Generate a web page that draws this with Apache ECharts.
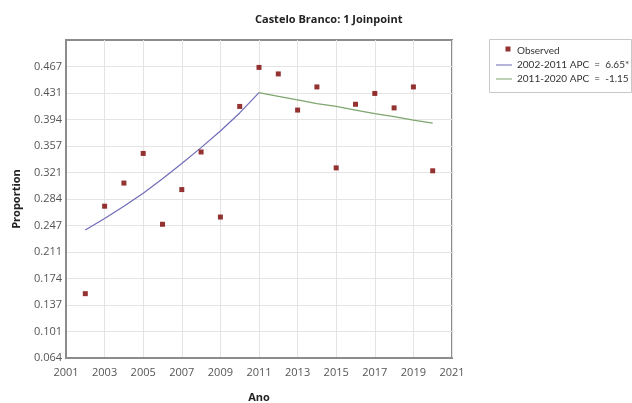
<!DOCTYPE html>
<html>
<head>
<meta charset="utf-8">
<script src="https://cdn.jsdelivr.net/npm/echarts@6/dist/echarts.min.js"></script>
<style>
  html, body { margin: 0; padding: 0; background: #fff; }
  #chart { width: 632px; height: 403px; }
</style>
</head>
<body>
<div id="chart"></div>
<script>
// ---- data ----
const years = [2002, 2003, 2004, 2005, 2006, 2007, 2008, 2009, 2010, 2011, 2012, 2013, 2014, 2015, 2016, 2017, 2018, 2019, 2020];
const observed = [0.153, 0.274, 0.306, 0.347, 0.249, 0.297, 0.349, 0.259, 0.412, 0.466, 0.457, 0.407, 0.439, 0.327, 0.415, 0.430, 0.410, 0.439, 0.323];
const seg1Years = [2002, 2003, 2004, 2005, 2006, 2007, 2008, 2009, 2010, 2011];
const seg1Values = [0.241, 0.257, 0.274, 0.292, 0.312, 0.333, 0.355, 0.378, 0.403, 0.431];
const seg2Years = [2011, 2012, 2013, 2014, 2015, 2016, 2017, 2018, 2019, 2020];
const seg2Values = [0.431, 0.426, 0.421, 0.416, 0.412, 0.407, 0.402, 0.398, 0.393, 0.389];
const seriesNames = ['Observed', '2002-2011 APC  =  6.65*', '2011-2020 APC  =  -1.15'];
const yTickValues = [0.064, 0.10066, 0.13732, 0.17398, 0.21064, 0.2473, 0.28396, 0.32062, 0.35728, 0.39394, 0.4306, 0.46726];
const yMin = 0.064, yMax = 0.50392;
const xTickValues = [2001, 2003, 2005, 2007, 2009, 2011, 2013, 2015, 2017, 2019, 2021];
const xMin = 2001, xMax = 2021;
const titleText = 'Castelo Branco: 1 Joinpoint';
const xName = 'Ano', yName = 'Proportion';

const pairs = (xs, ys) => xs.map((x, i) => [x, ys[i]]);
const FONT = 'Open Sans';
const LINE_ICON = 'path://M0,0h0.01v0.01h-0.01z M0,4.5h16v1h-16z M16,10h0.01v0.01h-0.01z';
const DOT_ICON = 'path://M0,0h0.01v0.01h-0.01z M9.5,0.5h5v5h-5z M16,10h0.01v0.01h-0.01z';

const chart = echarts.init(document.getElementById('chart'), null, { renderer: 'canvas' });
chart.setOption({
  animation: false,
  backgroundColor: '#fff',
  textStyle: { fontFamily: FONT },
  title: {
    text: titleText,
    left: 250, top: 9,
    textStyle: { fontFamily: FONT, fontSize: 11, fontWeight: 'bold', color: '#222' }
  },
  graphic: [{
    type: 'rect', left: 489, top: 39,
    shape: { width: 142, height: 53 },
    style: { fill: '#fff', stroke: '#c8c8c8', lineWidth: 1 },
    z: 0
  }],
  legend: {
    orient: 'vertical',
    left: 496, top: 46,
    padding: 0,
    itemWidth: 16, itemHeight: 10, itemGap: 4,
    textStyle: { fontFamily: 'Lato', fontSize: 10, color: '#333' },
    data: [
      { name: seriesNames[0], icon: DOT_ICON },
      { name: seriesNames[1], icon: LINE_ICON },
      { name: seriesNames[2], icon: LINE_ICON }
    ],
    z: 5
  },
  grid: { left: 66, right: 180, top: 40, bottom: 45, show: true, borderColor: '#8c8c8c', borderWidth: 2, outerBoundsMode: 'none' },
  xAxis: {
    type: 'value', min: xMin, max: xMax,
    name: xName, nameLocation: 'middle', nameGap: 34,
    nameTextStyle: { fontFamily: FONT, fontSize: 11, fontWeight: 'bold', color: '#222' },
    axisLine: { show: true, lineStyle: { color: '#8c8c8c', width: 2 } },
    axisTick: { show: false, customValues: xTickValues },
    axisLabel: { customValues: xTickValues, margin: 9, fontFamily: FONT, fontSize: 11, color: '#555', formatter: v => String(v) },
    splitLine: { show: true, lineStyle: { color: '#e4e4e4', width: 1 } }
  },
  yAxis: {
    type: 'value', min: yMin, max: yMax,
    name: yName, nameLocation: 'middle', nameGap: 44, nameRotate: 90,
    nameTextStyle: { fontFamily: FONT, fontSize: 11, fontWeight: 'bold', color: '#222' },
    axisLine: { show: true, lineStyle: { color: '#8c8c8c', width: 2 } },
    axisTick: { show: false, customValues: yTickValues },
    axisLabel: { customValues: yTickValues, margin: 4, fontFamily: FONT, fontSize: 11, color: '#555', formatter: v => v.toFixed(3) },
    splitLine: { show: true, lineStyle: { color: '#e4e4e4', width: 1 } }
  },
  series: [
    {
      name: seriesNames[0], type: 'scatter',
      data: pairs(years, observed),
      symbol: 'rect', symbolSize: 5,
      itemStyle: { color: '#7a0000' },
      z: 4
    },
    {
      name: seriesNames[1], type: 'line',
      data: pairs(seg1Years, seg1Values),
      showSymbol: false, symbol: 'none',
      lineStyle: { color: '#6f6bb8', width: 1.2 },
      itemStyle: { color: '#6f6bb8' },
      z: 3
    },
    {
      name: seriesNames[2], type: 'line',
      data: pairs(seg2Years, seg2Values),
      showSymbol: false, symbol: 'none',
      lineStyle: { color: '#7fa56f', width: 1.2 },
      itemStyle: { color: '#7fa56f' },
      z: 3
    }
  ]
});
</script>
</body>
</html>
